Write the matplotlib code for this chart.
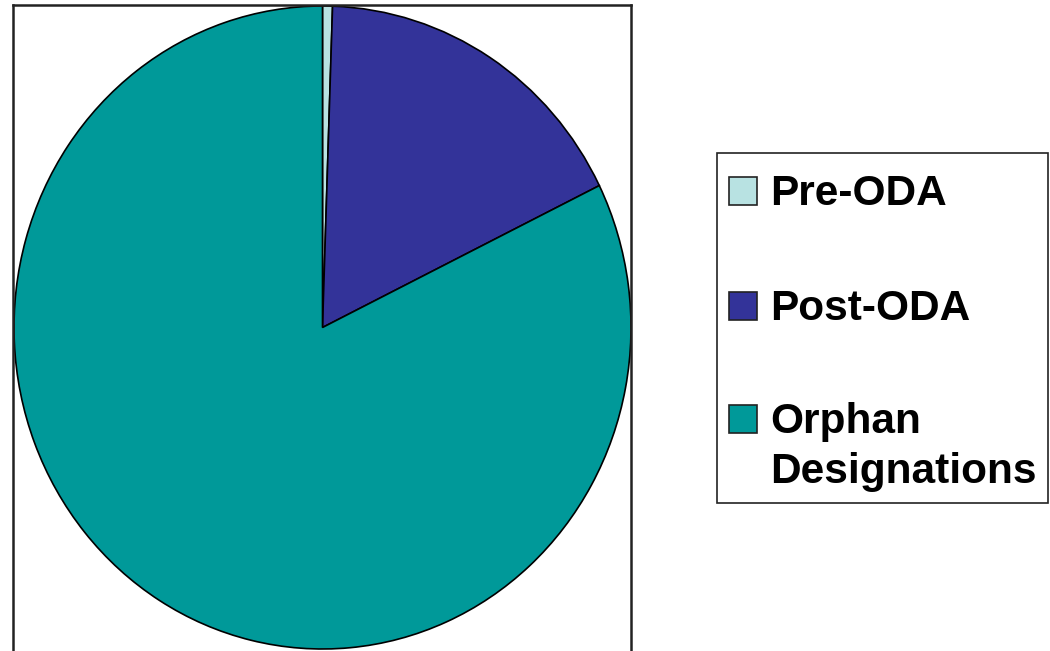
import matplotlib
matplotlib.use("Agg")
import matplotlib.pyplot as plt
from matplotlib.patches import Rectangle

# data
labels = ["Pre-ODA", "Post-ODA", "Orphan\nDesignations"]
values = [10, 331, 1583]
colors = ["#B8E2E2", "#333399", "#009999"]

W, H = 1050, 651
fig = plt.figure(figsize=(W / 100, H / 100), dpi=100)

def px(x, y):
    # pixel (from top-left) -> figure fraction
    return x / W, 1 - y / H

# plot area frame: left 13, top 5, right 631, bottom runs past the image
l, t, r, b = 13, 5, 631, 655
ax = fig.add_axes([l / W, (H - b) / H, (r - l) / W, (b - t) / H])
ax.pie(values, colors=colors, startangle=90, counterclock=False,
       wedgeprops=dict(edgecolor="black", linewidth=1.2))
ax.set_aspect("auto")
# pie center at (322.5, 327.5) px, radii 308.5 x 321.5 px
ax.set_xlim(-(322.5 - l) / 308.5, (r - 322.5) / 308.5)
ax.set_ylim(-(b - 327.5) / 321.5, (327.5 - t) / 321.5)
ax.set_frame_on(True)
ax.set_xticks([])
ax.set_yticks([])
for s in ax.spines.values():
    s.set_linewidth(1.8)
    s.set_color("#222222")

# legend drawn by hand so the swatch sits on the first text line
lx0, ly0 = px(717, 503)
lx1, ly1 = px(1048, 153)
fig.patches.append(Rectangle((lx0, ly0), lx1 - lx0, ly1 - ly0, transform=fig.transFigure,
                             facecolor="white", edgecolor="#222222", linewidth=1.2))
baselines = [205, 320, 433]
for lab, col, yb in zip(labels, colors, baselines):
    sx, sy = px(729, yb)
    fig.patches.append(Rectangle((sx, sy), 28 / W, 28 / H, transform=fig.transFigure,
                                 facecolor=col, edgecolor="#222222", linewidth=1.2))
    for i, line in enumerate(lab.split("\n")):
        tx, ty = px(770, yb + 50 * i)
        fig.text(tx, ty, line, fontsize=30.5, fontweight="bold", family="Liberation Sans",
                 va="baseline", ha="left")

fig.savefig("out.png", dpi=100)
